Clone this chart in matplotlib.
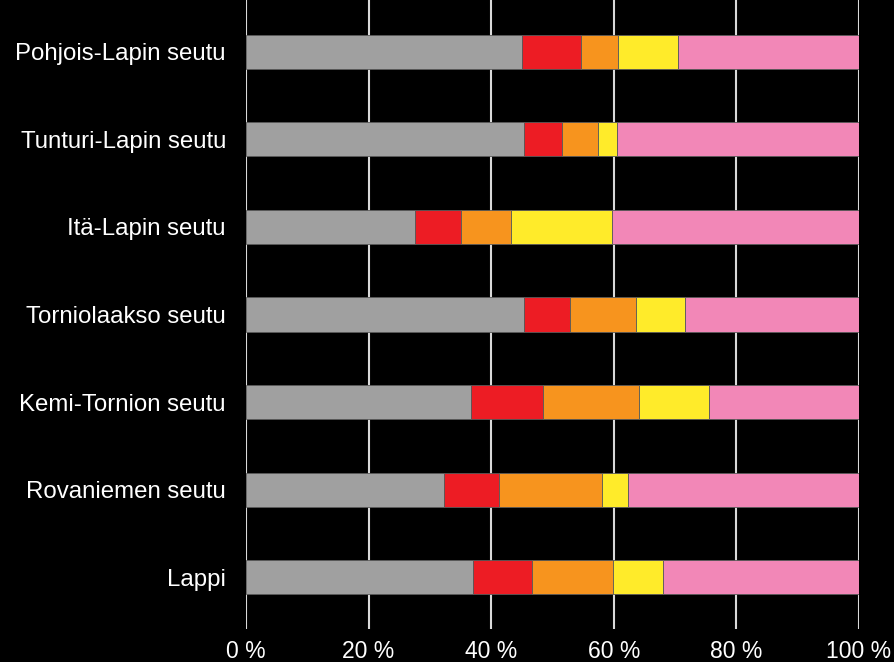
import numpy as np
import matplotlib.pyplot as plt

plt.rcParams['font.family'] = ['Liberation Sans', 'DejaVu Sans']

# Data (percent shares)
seudut = ["Pohjois-Lapin seutu", "Tunturi-Lapin seutu", "Itä-Lapin seutu",
          "Torniolaakso seutu", "Kemi-Tornion seutu", "Rovaniemen seutu", "Lappi"]
harmaa = [45.0, 45.3, 27.6, 45.3, 36.7, 32.3, 37.0]
punainen = [9.7, 6.2, 7.5, 7.6, 11.8, 9.0, 9.6]
oranssi = [6.0, 5.9, 8.2, 10.7, 15.6, 16.7, 13.3]
keltainen = [9.8, 3.2, 16.4, 8.0, 11.4, 4.3, 8.2]
pinkki = [29.5, 39.4, 40.3, 28.4, 24.5, 37.7, 31.9]

sarjat = [harmaa, punainen, oranssi, keltainen, pinkki]
varit = ["#A0A0A0", "#ED1C24", "#F7941E", "#FFEB2A", "#F287B7"]

fig = plt.figure(figsize=(8.95, 6.62), dpi=100, facecolor="black")
ax = fig.add_axes([246/895, 33/662, 613/895, 629/662])
ax.set_facecolor("black")

y = np.arange(len(seudut))
vasen = np.zeros(len(seudut))
for arvot, vari in zip(sarjat, varit):
    ax.barh(y, arvot, left=vasen, height=0.39, color=vari,
            edgecolor="#5a5a5a", linewidth=0.6, zorder=3)
    vasen += np.array(arvot)

ax.set_xlim(0, 100)
ax.set_ylim(6.59, -0.59)
ax.set_xticks([0, 20, 40, 60, 80, 100])
ax.set_xticklabels(["0 %", "20 %", "40 %", "60 %", "80 %", "100 %"])
ax.set_yticks(y)
ax.set_yticklabels(seudut)
ax.tick_params(axis="both", length=0, colors="white")
ax.tick_params(axis="y", pad=14.4, labelsize=17.3)
ax.tick_params(axis="x", pad=8, labelsize=16.5)

ax.grid(axis="x", color="#D9D9D9", linewidth=1.5, zorder=0)
for s in ax.spines.values():
    s.set_visible(False)

fig.savefig("out.png", dpi=100, facecolor="black")
